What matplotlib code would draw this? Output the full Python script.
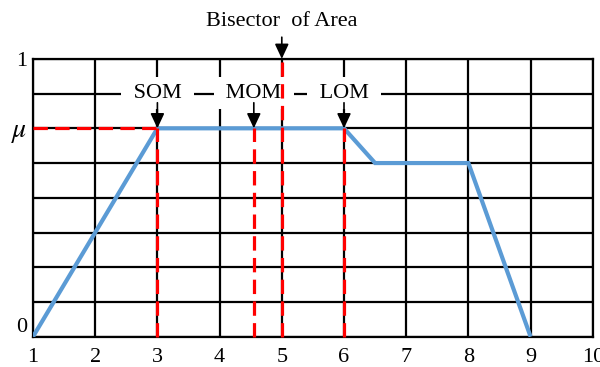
import numpy as np
import matplotlib
matplotlib.use("Agg")
import matplotlib.pyplot as plt

plt.rcParams['font.family'] = ['Liberation Serif', 'DejaVu Serif']
plt.rcParams['mathtext.fontset'] = 'stix'

# membership function vertices
x_pts = [1, 3, 6, 6.5, 8, 9]
y_pts = [0, 0.75, 0.75, 0.625, 0.625, 0]

mu = 0.75
som = 3.0      # smallest of maxima
mom = 4.55     # mean of maxima
lom = 6.0      # largest of maxima
boa = 5.0      # bisector of area

fig = plt.figure(figsize=(6, 3.67), dpi=100)
ax = fig.add_axes([0.055, 0.0826, 0.933, 0.757])

ax.set_xlim(1, 10)
ax.set_ylim(0, 1)
ax.set_xticks(np.arange(1, 11))
ax.set_yticks([0, mu, 1])
ax.set_yticklabels(['0', r'$\mu$', '1'])
ax.set_yticks(np.arange(0, 1.001, 0.125), minor=True)
ax.tick_params(which='both', length=0, labelsize=16)
ax.tick_params(axis='x', pad=8)
ax.tick_params(axis='y', pad=4)
ax.get_yticklabels()[0].set_va('bottom')
ax.get_yticklabels()[1].set_fontsize(20)

ax.grid(True, which='both', color='black', linewidth=1.6)
ax.set_axisbelow(True)
for s in ax.spines.values():
    s.set_linewidth(1.6)
    s.set_zorder(2.5)

# the membership curve
ax.plot(x_pts, y_pts, color='#5B9BD5', linewidth=3, zorder=3,
        solid_joinstyle='miter', solid_capstyle='butt')

# defuzzified positions
red = dict(color='#FF0000', linewidth=2.3, dashes=(4.5, 2.3), zorder=6, clip_on=False)
ax.plot([1, som], [mu, mu], **red)
ax.plot([som, som], [0, mu], **red)
ax.plot([mom, mom], [0, mu], **red)
ax.plot([lom, lom], [0, mu], **red)
ax.plot([boa, boa], [0, 1], **red)

arrow = dict(arrowstyle='-|>,head_length=0.9,head_width=0.42', color='black',
             linewidth=1.2, shrinkA=0, shrinkB=0)
box = dict(boxstyle='square,pad=0.3', fc='white', ec='none')
for name, xv in [('SOM', som), ('MOM', mom), ('LOM', lom)]:
    ax.text(xv, 0.877, ' ' + name + ' ', ha='center', va='center',
            fontsize=16, bbox=box, zorder=4)
    ax.annotate('', xy=(xv, mu), xytext=(xv, 0.842), arrowprops=arrow, zorder=5)

ax.text(boa, 1.10, 'Bisector  of Area', ha='center', va='bottom', fontsize=16,
        clip_on=False)
ax.annotate('', xy=(boa, 1), xytext=(boa, 1.078), arrowprops=arrow,
            annotation_clip=False, zorder=7)

plt.savefig('out.png', dpi=100)
